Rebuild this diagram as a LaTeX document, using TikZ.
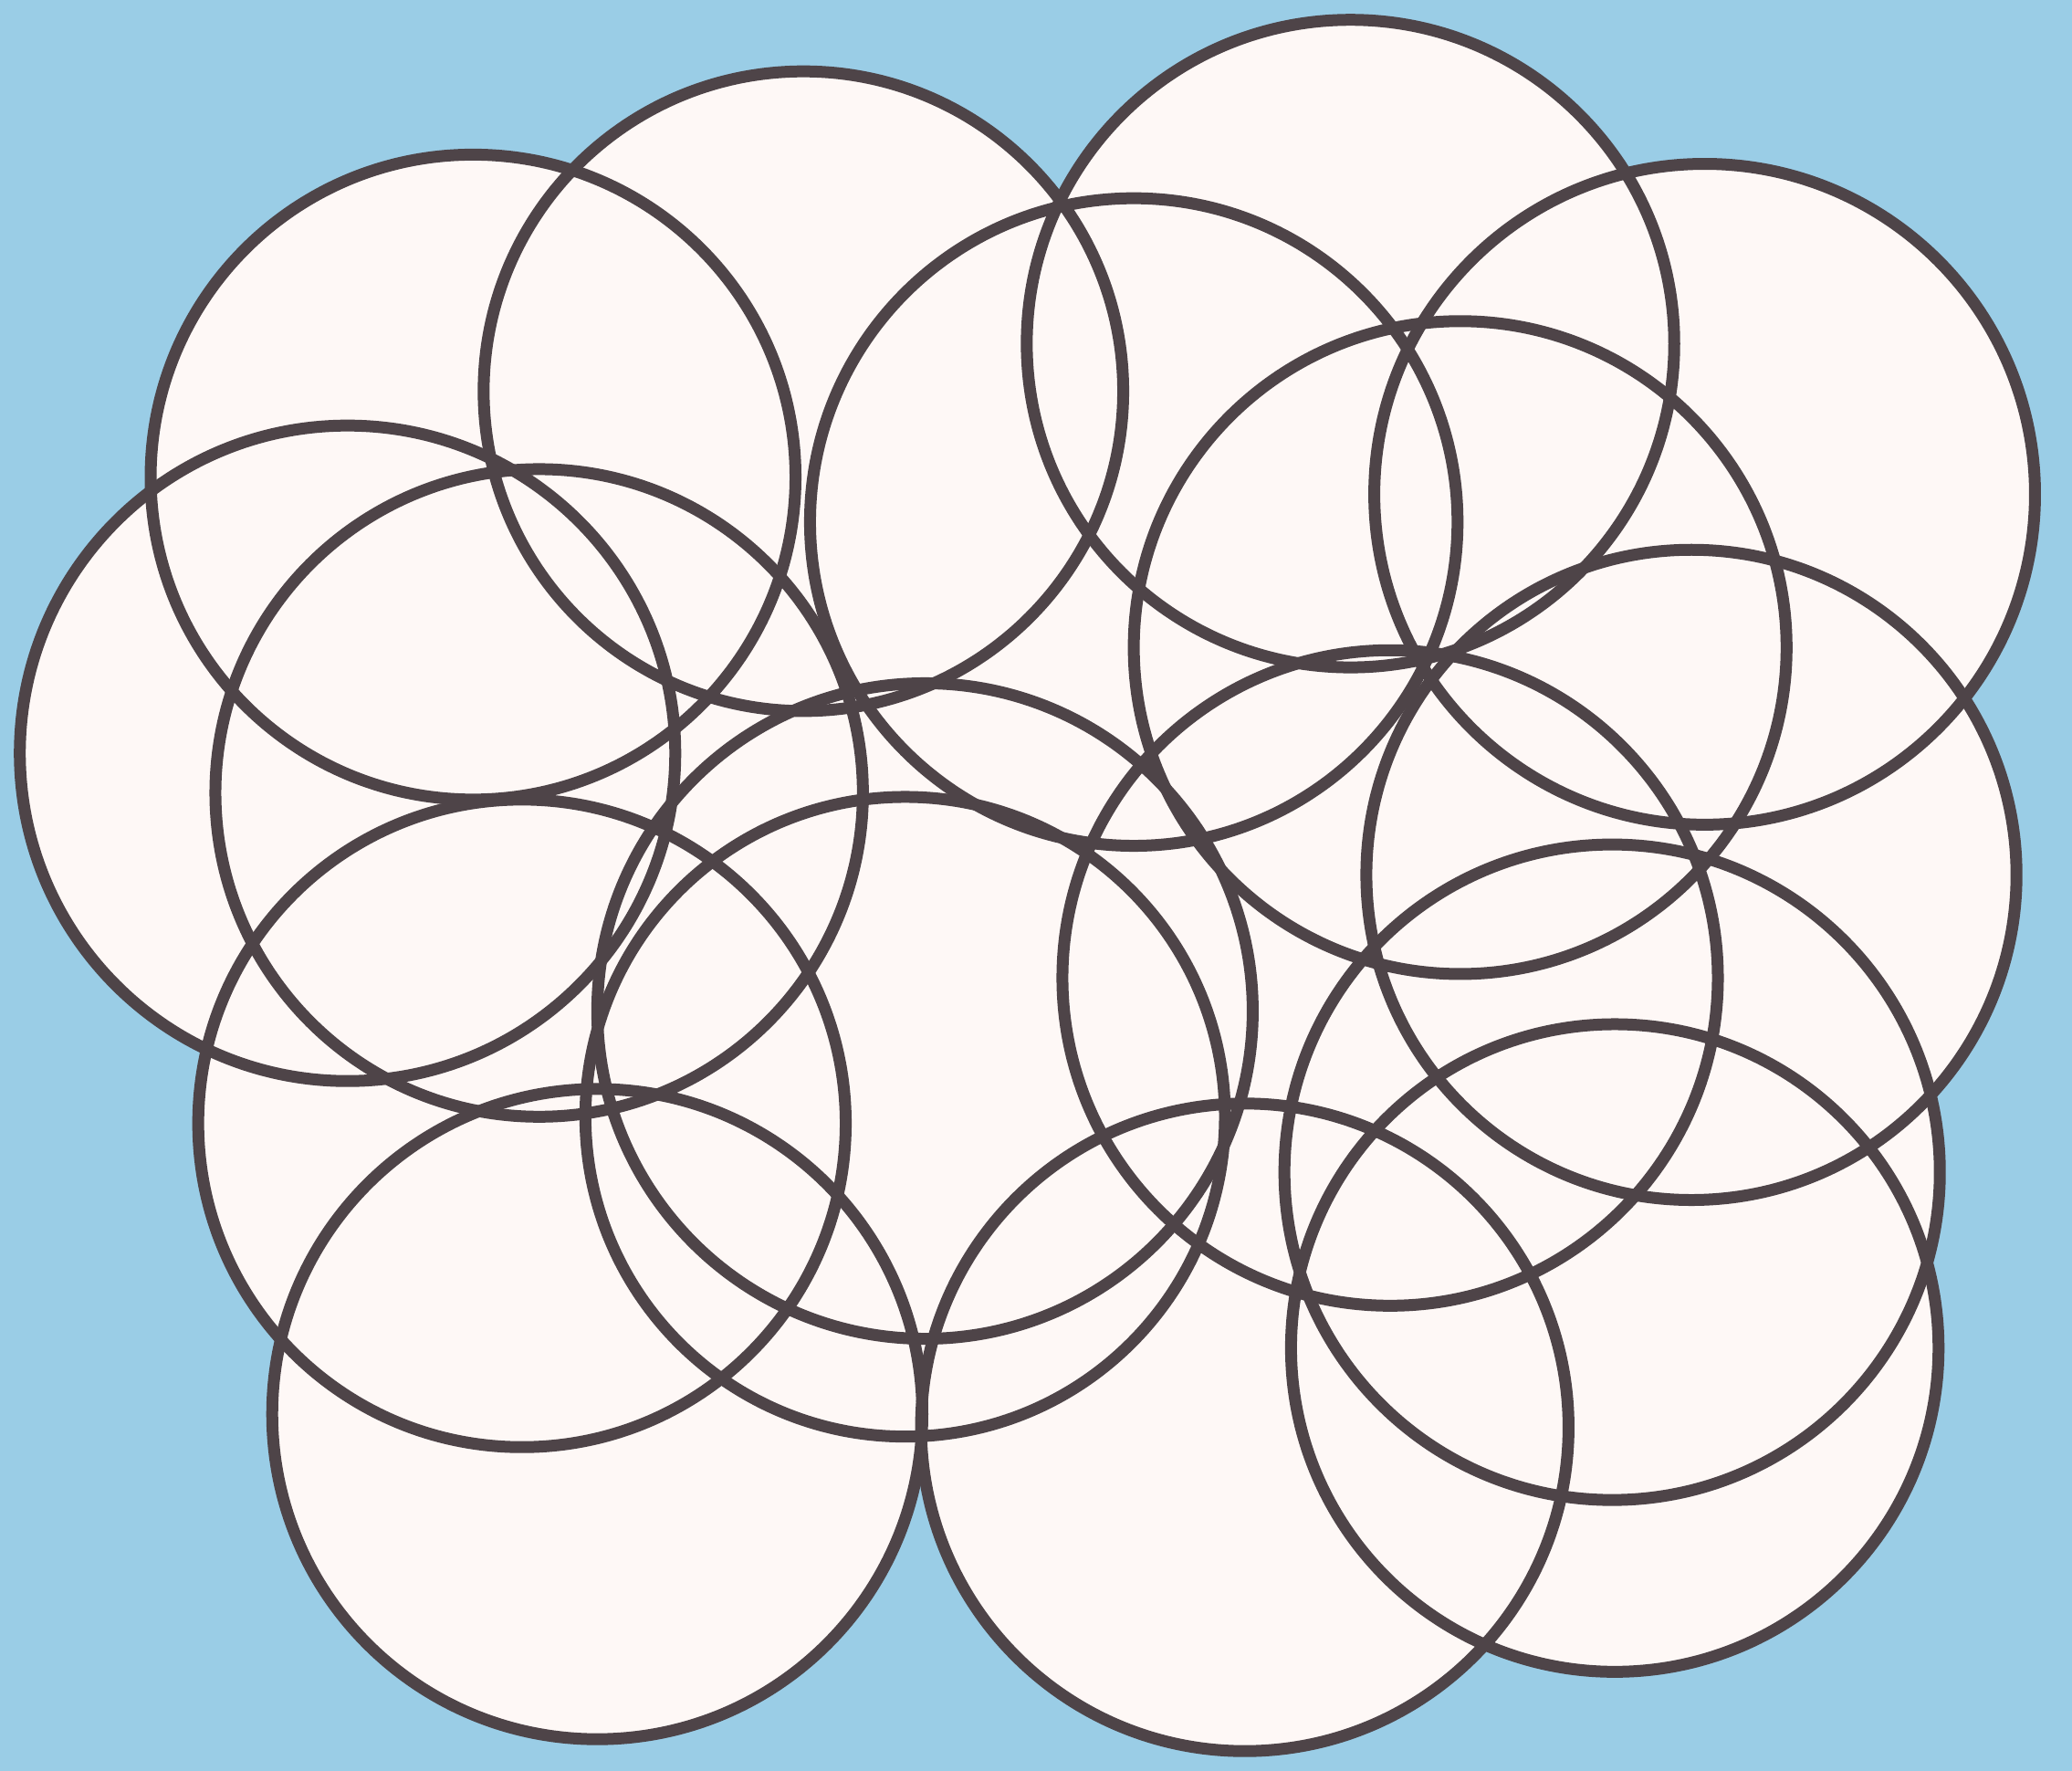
\documentclass[tikz,border=0pt]{standalone}
\usepackage{tikz}
\usepackage{xcolor}
\definecolor{skyblue}{RGB}{154,205,230}
\definecolor{paper}  {RGB}{254,248,246}
\definecolor{inkgray}{RGB}{78,68,72}
\newcommand{\ringlist}{358/361/244, 608/296/242, 1022/260/245, 1290/374/250,
  858/395/245, 1105/490/247, 1280/662/246, 1220/887/248, 1222/1020/245,
  1052/740/248, 942/1080/245, 452/1070/246, 395/850/245, 408/600/245,
  263/570/248, 685/845/242, 700/765/248}

\begin{document}
\begin{tikzpicture}[
    x=0.014477cm,y=-0.014477cm,
    disc/.style={fill=paper},
    rim/.style={draw=inkgray,line width=3.7pt}
  ]
    \fill[skyblue] (0,0) rectangle (1568,1340);
    \useasboundingbox (0,0) rectangle (1568,1340);
    \foreach \cx/\cy/\r in \ringlist
      \fill[disc] (\cx,\cy) circle [radius=\r];
    \foreach \cx/\cy/\r in \ringlist
      \draw[rim] (\cx,\cy) circle [radius=\r];
\end{tikzpicture}
\end{document}
